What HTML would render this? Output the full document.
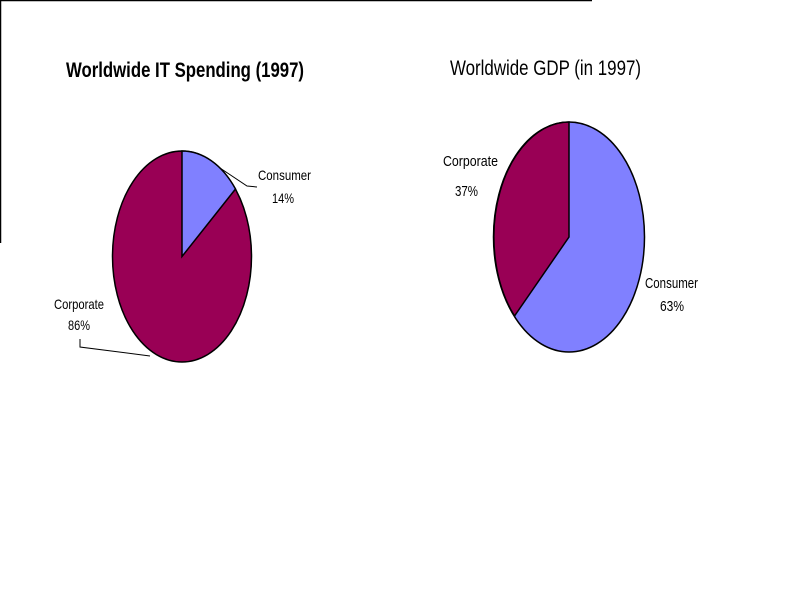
<!DOCTYPE html>
<html><head><style>
html,body{margin:0;padding:0;background:#fff;width:800px;height:600px;overflow:hidden}
text{font-family:"Liberation Sans",sans-serif}
</style></head><body>
<svg width="800" height="600" viewBox="0 0 800 600" xmlns="http://www.w3.org/2000/svg">
<line x1="0" y1="0.5" x2="592" y2="0.5" stroke="#000" stroke-width="1.5"/>
<line x1="0.5" y1="0" x2="0.5" y2="243" stroke="#000" stroke-width="1.5"/>
<text x="66" y="77" font-size="21" font-weight="bold" textLength="238" lengthAdjust="spacingAndGlyphs">Worldwide IT Spending (1997)</text>
<text x="450" y="75" font-size="21" textLength="191" lengthAdjust="spacingAndGlyphs">Worldwide GDP (in 1997)</text>
<!-- left pie -->
<ellipse cx="182" cy="256.5" rx="69.5" ry="105.5" fill="#990055" stroke="#000" stroke-width="1.5"/>
<path d="M182,256.5 L182,151 A69.5,105.5 0 0 1 235.5,189 Z" fill="#8080ff" stroke="#000" stroke-width="1.5"/>
<polyline points="220,168 247,186 257,187" fill="none" stroke="#000" stroke-width="1"/>
<polyline points="80,339 80,347 150,356" fill="none" stroke="#000" stroke-width="1"/>
<text x="258" y="180" font-size="14" textLength="53" lengthAdjust="spacingAndGlyphs">Consumer</text>
<text x="272" y="203" font-size="14" textLength="22" lengthAdjust="spacingAndGlyphs">14%</text>
<text x="54" y="309" font-size="14" textLength="50" lengthAdjust="spacingAndGlyphs">Corporate</text>
<text x="68" y="330" font-size="14" textLength="22" lengthAdjust="spacingAndGlyphs">86%</text>
<!-- right pie -->
<ellipse cx="569" cy="237" rx="75.5" ry="115" fill="#8080ff" stroke="#000" stroke-width="1.5"/>
<path d="M569,237 L569,122 A75.5,115 0 0 0 514.5,316 Z" fill="#990055" stroke="#000" stroke-width="1.5"/>
<text x="443" y="166" font-size="15" textLength="55" lengthAdjust="spacingAndGlyphs">Corporate</text>
<text x="455" y="196" font-size="15" textLength="23" lengthAdjust="spacingAndGlyphs">37%</text>
<text x="645" y="288" font-size="15" textLength="53" lengthAdjust="spacingAndGlyphs">Consumer</text>
<text x="660" y="311" font-size="15" textLength="24" lengthAdjust="spacingAndGlyphs">63%</text>
</svg>
</body></html>
